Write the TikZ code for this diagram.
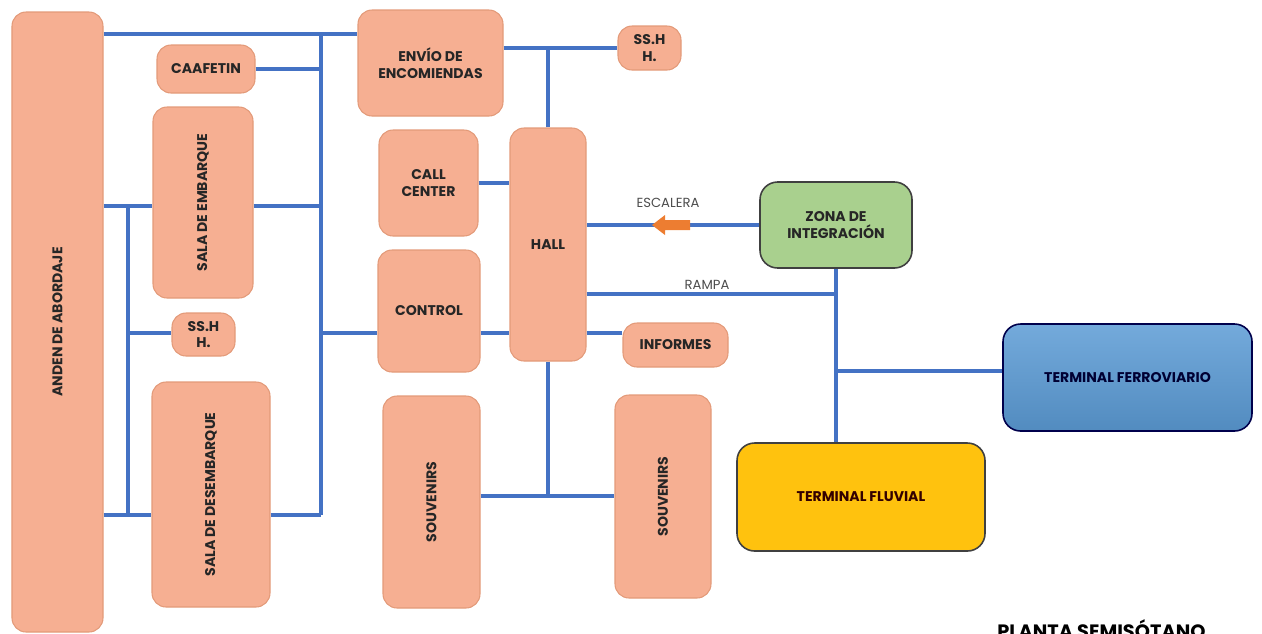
\documentclass[tikz,border=0pt]{standalone}
\usepackage{fontspec}
\usepackage{graphicx}
\setmainfont{Poppins}

\definecolor{roomfill}{HTML}{F6AF92}
\definecolor{roomline}{HTML}{E39A79}
\definecolor{linkblue}{HTML}{4472C4}
\definecolor{zonegreen}{HTML}{A9D08E}
\definecolor{ferroblue}{HTML}{5B9BD5}
\definecolor{fluvyellow}{HTML}{FFC20E}
\definecolor{arrowor}{HTML}{ED7D31}

\begin{document}
\begin{tikzpicture}[x=1cm,y=1cm]
\tikzset{
  room/.style={rectangle,rounded corners=8pt,fill=roomfill,draw=roomline,line width=0.6pt,
    inner sep=1pt,align=center,font=\fontsize{8}{9.6}\selectfont\bfseries,text=black!85},
  bigroom/.style={room,draw=black!75,line width=0.9pt,rounded corners=10pt},
  link/.style={draw=linkblue,line width=2pt},
  passlabel/.style={font=\fontsize{7.5}{8}\selectfont,text=black!70,inner sep=1pt}
}
\useasboundingbox (0,0) rectangle (25.24,-12.66);
% nodes
\node[room,minimum width=1.82cm,minimum height=12.40cm] (anden) at (1.15,-6.44) {\rotatebox{90}{ANDEN DE ABORDAJE}};
\node[room,minimum width=1.96cm,minimum height=0.96cm] (caaf) at (4.12,-1.38) {CAAFETIN};
\node[room,minimum width=2.00cm,minimum height=3.82cm] (embarque) at (4.06,-4.05) {\rotatebox{90}{SALA DE EMBARQUE}};
\node[room,minimum width=1.26cm,minimum height=0.86cm] (sshhA) at (4.07,-6.69) {SS.H\\H.};
\node[room,minimum width=2.36cm,minimum height=4.50cm] (desemb) at (4.22,-9.89) {\rotatebox{90}{SALA DE DESEMBARQUE}};
\node[room,minimum width=2.90cm,minimum height=2.12cm] (envio) at (8.61,-1.26) {ENVÍO DE\\ENCOMIENDAS};
\node[room,minimum width=1.26cm,minimum height=0.88cm] (sshhB) at (12.99,-0.96) {SS.H\\H.};
\node[room,minimum width=1.98cm,minimum height=2.12cm] (callc) at (8.57,-3.66) {CALL\\CENTER};
\node[room,minimum width=1.52cm,minimum height=4.66cm] (hall) at (10.96,-4.89) {HALL};
\node[room,minimum width=2.04cm,minimum height=2.44cm] (control) at (8.58,-6.22) {CONTROL};
\node[room,minimum width=2.10cm,minimum height=0.88cm] (informes) at (13.51,-6.90) {INFORMES};
\node[room,minimum width=1.94cm,minimum height=4.24cm] (souvA) at (8.63,-10.04) {\rotatebox{90}{SOUVENIRS}};
\node[room,minimum width=1.92cm,minimum height=4.06cm] (souvB) at (13.26,-9.93) {\rotatebox{90}{SOUVENIRS}};
\node[bigroom,fill=zonegreen,minimum width=3.04cm,minimum height=1.72cm] (zona) at (16.72,-4.50) {ZONA DE\\INTEGRACIÓN};
\node[bigroom,top color=ferroblue!85!white,bottom color=ferroblue!90!black,draw=black!70!blue,
  minimum width=4.98cm,minimum height=2.14cm,text=black!80!blue] (ferro) at (22.55,-7.55) {TERMINAL FERROVIARIO};
\node[bigroom,fill=fluvyellow,minimum width=4.96cm,minimum height=2.16cm,text=black!80!red] (fluvial) at (17.22,-9.94) {TERMINAL FLUVIAL};
% junctions
\coordinate (busR) at (6.42,-0.68);
\coordinate (busRb) at (6.42,-10.30);
\coordinate (busL) at (2.56,-4.12);
\coordinate (busLb) at (2.56,-10.30);
\coordinate (ctl) at (6.42,-6.66);
\coordinate (souvJ) at (10.96,-9.92);
\coordinate (rampJ) at (16.72,-5.88);
\coordinate (ferroJ) at (16.72,-7.42);
% left side
\draw[link] (anden.east |- busR) -- (envio.west |- busR);
\draw[link] (busR) -- (busRb);
\draw[link] (caaf.east) -- (caaf.east -| busR);
\draw[link] (embarque.east |- busL) -- (busR |- busL);
\draw[link] (ctl) -- (control.west |- ctl);
\draw[link] (desemb.east |- busRb) -- (busRb);
\draw[link] (anden.east |- busL) -- (embarque.west |- busL);
\draw[link] (anden.east |- busLb) -- (desemb.west |- busLb);
\draw[link] (busL) -- (busLb);
\draw[link] (busL |- ctl) -- (sshhA.west |- ctl);
% middle
\draw[link] (envio.east |- sshhB) -- (sshhB.west);
\draw[link] (hall.north) -- (hall.north |- sshhB);
\draw[link] (callc.east) -- (callc.east -| hall.west);
\draw[link] (control.east |- ctl) -- (hall.west |- ctl);
\draw[link] (hall.east |- ctl) -- (informes.west |- ctl);
\draw[link] (hall.south) -- (souvJ);
\draw[link] (souvA.east |- souvJ) -- (souvB.west |- souvJ);
% right side
\draw[link] (zona.west) -- (zona.west -| hall.east);
\fill[arrowor] (13.04,-4.50) -- ++(0.26,0.20) -- ++(0,-0.10) -- ++(0.50,0) -- ++(0,-0.20)
  -- ++(-0.50,0) -- ++(0,-0.10) -- cycle;
\node[passlabel] (escLbl) at (13.36,-4.06) {ESCALERA};
\draw[link] (hall.east |- rampJ) -- (rampJ);
\node[passlabel] (rampLbl) at (14.14,-5.70) {RAMPA};
\draw[link] (zona.south) -- (zona.south |- fluvial.north);
\draw[link] (ferroJ) -- (ferro.west |- ferroJ);
\node[anchor=base west,inner sep=0pt,font=\fontsize{11}{12}\selectfont\bfseries] (planta) at (19.94,-12.77) {PLANTA SEMISÓTANO};
\end{tikzpicture}
\end{document}
